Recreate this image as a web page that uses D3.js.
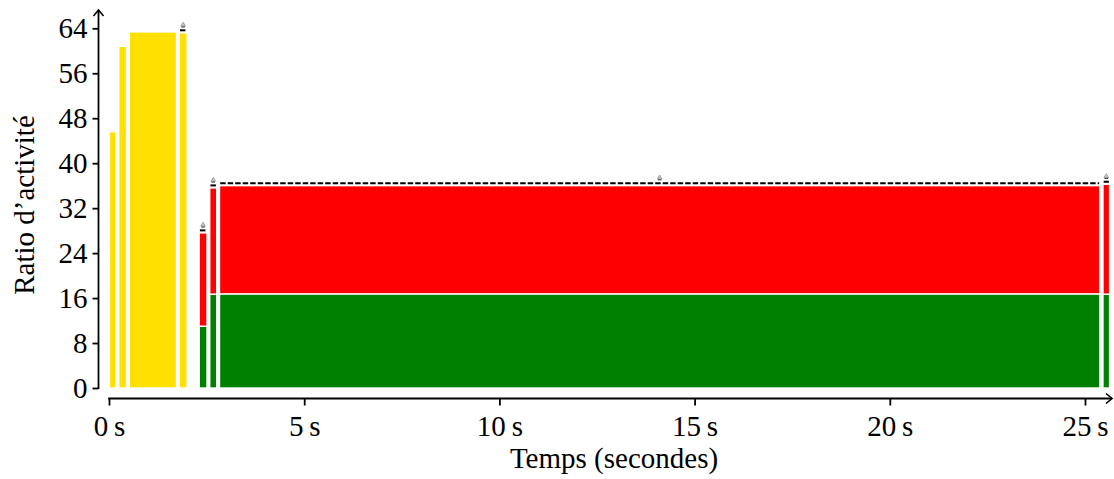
<!DOCTYPE html>
<html>
<head>
<meta charset="utf-8">
<script src="https://cdn.jsdelivr.net/npm/d3@7"></script>
<style>
  html, body { margin: 0; padding: 0; background: #fff; }
  svg { display: block; }
  text { font-family: "Liberation Serif", "DejaVu Serif", serif; fill: #000; }
</style>
</head>
<body>
<script>
// ---- Data ----
const yellowStart = [0.01, 0.25, 0.52, 1.80];
const yellowEnd   = [0.18, 0.45, 1.73, 2.00];
const yellowValue = [45.6, 60.8, 63.35, 63.2];
const yellowMarked = [false, false, false, true];

const stackStart = [2.31, 2.58, 2.83, 25.46];
const stackEnd   = [2.51, 2.76, 25.38, 25.63];
const greenValue = [11.0, 16.7, 16.75, 16.7];
const totalValue = [27.6, 35.6, 36.0, 36.25];

const xTicks = [0, 5, 10, 15, 20, 25];
const yTicks = [0, 8, 16, 24, 32, 40, 48, 56, 64];
const xTitle = "Temps (secondes)";
const yTitle = "Ratio d’activité";

// ---- Layout ----
const W = 1114, H = 479;
const svg = d3.select("body").append("svg").attr("width", W).attr("height", H);

const x = d3.scaleLinear().domain([0, 25]).range([109, 1085]);
const y = d3.scaleLinear().domain([0, 64]).range([388, 28.3]);
const xAxisY = 398.5;
const yAxisX = 98.5;
const fs = 29;

const YELLOW = "#FFE000", RED = "#FF0000", GREEN = "#008000";

const g = svg.append("g");

// yellow bars
const yd = yellowStart.map((s, i) => ({s, e: yellowEnd[i], v: yellowValue[i], m: yellowMarked[i]}));
g.selectAll("rect.yel").data(yd).join("rect")
  .attr("x", d => x(d.s)).attr("width", d => x(d.e) - x(d.s))
  .attr("y", d => y(d.v)).attr("height", d => y(0) - y(d.v))
  .attr("fill", YELLOW).attr("stroke", "#fff").attr("stroke-width", 1.4);

// stacked bars
const sd = stackStart.map((s, i) => ({s, e: stackEnd[i], gv: greenValue[i], tv: totalValue[i]}));
g.selectAll("rect.grn").data(sd).join("rect")
  .attr("x", d => x(d.s)).attr("width", d => x(d.e) - x(d.s))
  .attr("y", d => y(d.gv)).attr("height", d => y(0) - y(d.gv))
  .attr("fill", GREEN).attr("stroke", "#fff").attr("stroke-width", 1.4);
g.selectAll("rect.red").data(sd).join("rect")
  .attr("x", d => x(d.s)).attr("width", d => x(d.e) - x(d.s))
  .attr("y", d => y(d.tv)).attr("height", d => y(d.gv) - y(d.tv))
  .attr("fill", RED).attr("stroke", "#fff").attr("stroke-width", 1.4);

// markers (dashed top line + small glyph)
const markers = yd.filter(d => d.m).map(d => ({s: d.s, e: d.e, v: d.v}))
  .concat(sd.map(d => ({s: d.s, e: d.e, v: d.tv})));
g.selectAll("line.mk").data(markers).join("line")
  .attr("x1", d => x(d.s) + 0.7).attr("x2", d => x(d.e) - 0.7)
  .attr("y1", d => y(d.v) - 2.5).attr("y2", d => y(d.v) - 2.5)
  .attr("stroke", "#000").attr("stroke-width", 2)
  .attr("stroke-dasharray", "5.5,2");
const tri = d3.symbol().type(d3.symbolTriangle).size(9);
const glyph = g.selectAll("g.gl").data(markers).join("g")
  .attr("transform", d => `translate(${(x(d.s) + x(d.e)) / 2},${y(d.v) - 8})`);
glyph.append("path").attr("d", tri).attr("fill", "#ccc").attr("stroke", "#777").attr("stroke-width", 0.6);
glyph.append("rect").attr("x", -1.8).attr("y", 1.6).attr("width", 3.6).attr("height", 1.1).attr("fill", "#444");

// y axis
const yAx = svg.append("g").attr("transform", `translate(${yAxisX},0)`)
  .call(d3.axisLeft(y).tickValues(yTicks).tickSize(6).tickPadding(5).tickFormat(d3.format("d")));
yAx.select(".domain").remove();
yAx.selectAll(".tick line").attr("stroke", "#000").attr("stroke-width", 1.8);
yAx.selectAll(".tick text").attr("font-size", fs).attr("font-family", "Liberation Serif").attr("dy", "0.33em");
svg.append("line").attr("x1", yAxisX).attr("x2", yAxisX).attr("y1", y(0) + 0.9).attr("y2", 10)
  .attr("stroke", "#000").attr("stroke-width", 1.8);
svg.append("path").attr("d", `M${yAxisX - 5},16 L${yAxisX},10 L${yAxisX + 5},16`)
  .attr("fill", "none").attr("stroke", "#000").attr("stroke-width", 1.6);

// x axis
const xAx = svg.append("g").attr("transform", `translate(0,${xAxisY})`)
  .call(d3.axisBottom(x).tickValues(xTicks).tickSize(7).tickPadding(10).tickFormat(d => d + "\u2009s"));
xAx.select(".domain").remove();
xAx.selectAll(".tick line").attr("stroke", "#000").attr("stroke-width", 1.8);
xAx.selectAll(".tick text").attr("font-size", fs).attr("font-family", "Liberation Serif").attr("dy", "0.71em");
svg.append("line").attr("x1", x(0) - 0.9).attr("x2", 1112).attr("y1", xAxisY).attr("y2", xAxisY)
  .attr("stroke", "#000").attr("stroke-width", 1.8);
svg.append("path").attr("d", `M1106,${xAxisY - 5} L1112,${xAxisY} L1106,${xAxisY + 5}`)
  .attr("fill", "none").attr("stroke", "#000").attr("stroke-width", 1.6);

// titles
svg.append("text").attr("x", 614).attr("y", 468).attr("text-anchor", "middle")
  .attr("font-size", fs).text(xTitle);
svg.append("text").attr("transform", "translate(34,205) rotate(-90)").attr("text-anchor", "middle")
  .attr("font-size", fs).text(yTitle);
</script>
</body>
</html>
